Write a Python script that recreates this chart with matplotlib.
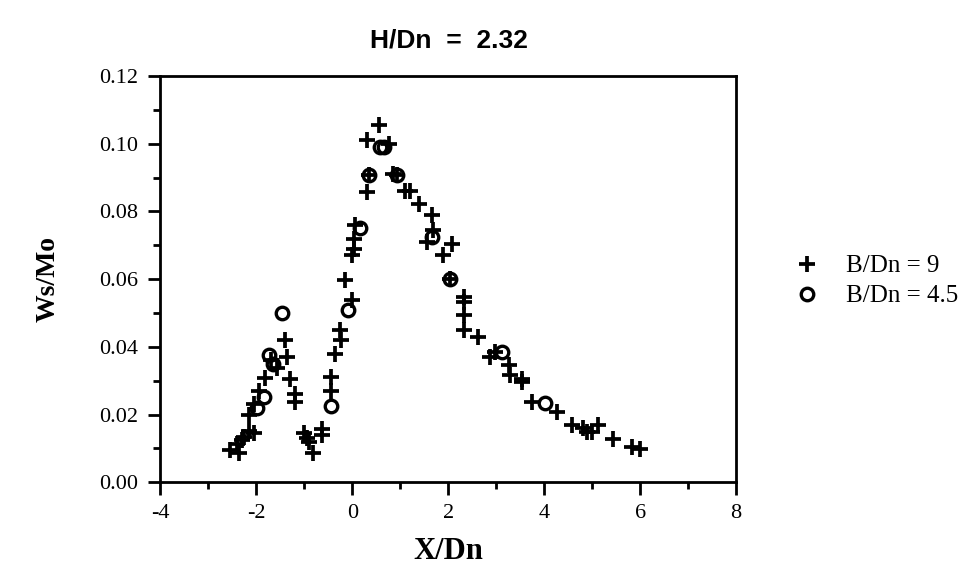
import matplotlib
matplotlib.use('Agg')
import matplotlib.pyplot as plt
from matplotlib.ticker import MultipleLocator, FormatStrFormatter

serif = 'Liberation Serif'
plt.rcParams['font.family'] = serif
plt.rcParams['axes.unicode_minus'] = False
plt.rcParams['xtick.labelsize'] = 16
plt.rcParams['ytick.labelsize'] = 16

# B/Dn = 9  (plus markers)
x_b9 = [-2.54, -2.37, -2.40, -2.30, -2.26, -2.05, -2.15, -2.16, -2.05, -1.95,
        -1.81, -1.57, -1.70, -1.35, -1.40, -1.29, -1.20, -1.19, -1.01, -0.91,
        -0.81, -0.95, -0.63, -0.63,
        -0.44, -0.44, -0.37, -0.25, -0.24, -0.15, -0.01, 0.00, 0.03, 0.03,
        0.05, 0.31, 0.34, 0.31, 0.55, 0.76, 0.93, 0.85, 1.10, 1.20,
        1.40, 1.66, 1.56, 1.69, 2.08, 1.90, 2.04, 2.32, 2.32, 2.32,
        2.32, 2.63, 2.88, 2.98, 3.26, 3.29, 3.53, 3.53, 3.74, 4.26,
        4.58, 4.80, 4.90, 5.00, 5.13, 5.44, 5.83, 6.00]
y_b9 = [0.0094, 0.0087, 0.0114, 0.0125, 0.0134, 0.0146, 0.0150, 0.0198, 0.0230, 0.0270,
        0.0307, 0.0336, 0.0360, 0.0370, 0.0420, 0.0304, 0.0260, 0.0237, 0.0144, 0.0119,
        0.0085, 0.0130, 0.0158, 0.0139,
        0.0270, 0.0310, 0.0380, 0.0450, 0.0420, 0.0597, 0.0538, 0.0670, 0.0690, 0.0720,
        0.0760, 0.0858, 0.0907, 0.1010, 0.1055, 0.1000, 0.0907, 0.0910, 0.0860, 0.0860,
        0.0822, 0.0790, 0.0710, 0.0745, 0.0705, 0.0670, 0.0600, 0.0548, 0.0533, 0.0494,
        0.0449, 0.0430, 0.0370, 0.0385, 0.0346, 0.0316, 0.0306, 0.0296, 0.0237, 0.0208,
        0.0168, 0.0160, 0.0148, 0.0148, 0.0168, 0.0129, 0.0104, 0.0099]

# B/Dn = 4.5  (open circles)
x_b45 = [-1.99, -1.85, -1.74, -1.65, -1.46, -0.44, -0.08, 0.17, 0.34, 0.58,
         0.66, 0.93, 1.66, 2.04, 3.12, 4.02]
y_b45 = [0.0218, 0.0252, 0.0375, 0.0350, 0.0500, 0.0225, 0.0508, 0.0750, 0.0907, 0.0990,
         0.0990, 0.0907, 0.0725, 0.0600, 0.0385, 0.0233]

fig = plt.figure(figsize=(9.66, 5.72), dpi=100)
ax = fig.add_axes([0.166, 0.157, 0.596, 0.710])

ax.plot(x_b9, y_b9, linestyle='none', marker='+', color='black',
        markersize=12, markeredgewidth=2.7, label='B/Dn = 9')
ax.plot(x_b45, y_b45, linestyle='none', marker='o', markerfacecolor='none',
        markeredgecolor='black', markersize=9, markeredgewidth=2.4, label='B/Dn = 4.5')

ax.set_xlim(-4, 8)
ax.set_ylim(0, 0.12)
ax.xaxis.set_major_locator(MultipleLocator(2))
ax.xaxis.set_minor_locator(MultipleLocator(1))
ax.yaxis.set_major_locator(MultipleLocator(0.02))
ax.yaxis.set_minor_locator(MultipleLocator(0.01))
ax.yaxis.set_major_formatter(FormatStrFormatter('%.2f'))

ax.tick_params(which='major', direction='out', length=9, width=2, pad=7)
ax.tick_params(which='minor', direction='out', length=5, width=2)
for sp in ax.spines.values():
    sp.set_linewidth(2)

ax.set_xlabel('X/Dn', fontsize=22, fontweight='bold', labelpad=10)
ax.set_ylabel('Ws/Mo', fontsize=20, fontweight='bold', labelpad=28)
fig.text(0.465, 0.93, 'H/Dn  =  2.32', ha='center', va='center',
         fontfamily='Liberation Sans', fontsize=19, fontweight='bold')

leg = ax.legend(loc='center left', bbox_to_anchor=(1.06, 0.495), frameon=False,
                prop={'size': 18}, handlelength=1.1,
                handletextpad=1.0, labelspacing=0.3)

fig.savefig('out.png', dpi=100)
